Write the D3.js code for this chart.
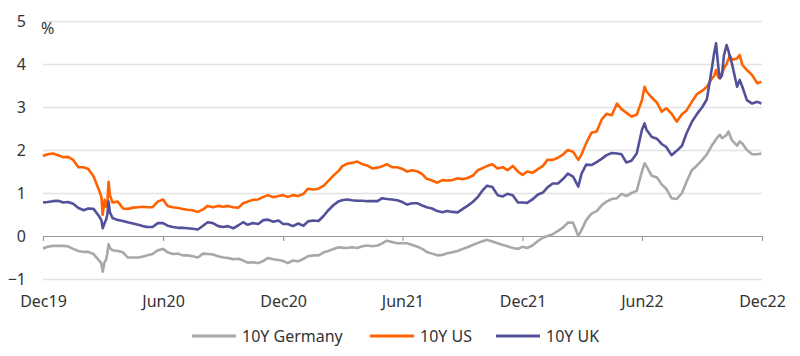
<!DOCTYPE html>
<html><head><meta charset="utf-8">
<script src="https://cdn.jsdelivr.net/npm/d3@7"></script>
<style>
html,body{margin:0;padding:0;background:#fff;}
svg{display:block;font-family:"Noto Sans",sans-serif;}
</style></head>
<body><svg id="c" width="800" height="356"></svg>
<script>
const dates = ["2019-12-01","2019-12-08","2019-12-16","2019-12-24","2020-01-01","2020-01-08","2020-01-16","2020-01-24",
"2020-02-01","2020-02-08","2020-02-16","2020-02-24","2020-02-28","2020-03-01","2020-03-04","2020-03-06","2020-03-08","2020-03-10","2020-03-12","2020-03-16","2020-03-24",
"2020-04-01","2020-04-08","2020-04-16","2020-04-24","2020-05-01","2020-05-08","2020-05-16","2020-05-24",
"2020-06-01","2020-06-08","2020-06-16","2020-06-24","2020-07-01","2020-07-08","2020-07-16","2020-07-24",
"2020-08-01","2020-08-08","2020-08-16","2020-08-24","2020-09-01","2020-09-08","2020-09-16","2020-09-24",
"2020-10-01","2020-10-08","2020-10-16","2020-10-24","2020-11-01","2020-11-08","2020-11-16","2020-11-24",
"2020-12-01","2020-12-08","2020-12-16","2020-12-24","2021-01-01","2021-01-08","2021-01-16","2021-01-24",
"2021-02-01","2021-02-08","2021-02-16","2021-02-24","2021-03-01","2021-03-08","2021-03-16","2021-03-24",
"2021-04-01","2021-04-08","2021-04-16","2021-04-24","2021-05-01","2021-05-08","2021-05-16","2021-05-24",
"2021-06-01","2021-06-08","2021-06-16","2021-06-24","2021-07-01","2021-07-08","2021-07-16","2021-07-24",
"2021-08-01","2021-08-08","2021-08-16","2021-08-24","2021-09-01","2021-09-08","2021-09-16","2021-09-24",
"2021-10-01","2021-10-08","2021-10-16","2021-10-24","2021-11-01","2021-11-08","2021-11-16","2021-11-24",
"2021-12-01","2021-12-08","2021-12-16","2021-12-24","2022-01-01","2022-01-08","2022-01-16","2022-01-24",
"2022-02-01","2022-02-08","2022-02-16","2022-02-24","2022-03-01","2022-03-08","2022-03-16","2022-03-24",
"2022-04-01","2022-04-08","2022-04-16","2022-04-24","2022-05-01","2022-05-08","2022-05-16","2022-05-24",
"2022-06-01","2022-06-05","2022-06-08","2022-06-16","2022-06-24","2022-07-01","2022-07-08","2022-07-16","2022-07-24",
"2022-08-01","2022-08-08","2022-08-16","2022-08-24","2022-09-01","2022-09-08","2022-09-16","2022-09-19","2022-09-22","2022-09-24","2022-09-26","2022-09-28",
"2022-10-01","2022-10-04","2022-10-08","2022-10-11","2022-10-13","2022-10-16","2022-10-24","2022-10-28",
"2022-11-01","2022-11-08","2022-11-16","2022-11-24","2022-11-30"];

const germany = [-0.29,-0.25,-0.23,-0.23,-0.23,-0.24,-0.30,-0.35,
-0.37,-0.37,-0.42,-0.56,-0.64,-0.83,-0.60,-0.56,-0.40,-0.19,-0.28,-0.33,-0.35,
-0.38,-0.50,-0.50,-0.50,-0.48,-0.45,-0.42,-0.33,
-0.30,-0.38,-0.42,-0.41,-0.45,-0.45,-0.47,-0.50,
-0.41,-0.42,-0.43,-0.47,-0.50,-0.51,-0.54,-0.53,
-0.57,-0.62,-0.61,-0.63,-0.58,-0.51,-0.54,-0.56,
-0.58,-0.63,-0.57,-0.59,-0.53,-0.47,-0.45,-0.45,
-0.38,-0.35,-0.30,-0.26,-0.27,-0.28,-0.26,-0.28,
-0.24,-0.22,-0.24,-0.22,-0.17,-0.11,-0.14,-0.17,
-0.17,-0.17,-0.21,-0.25,-0.30,-0.37,-0.41,-0.45,
-0.44,-0.40,-0.38,-0.35,-0.30,-0.26,-0.21,-0.16,
-0.12,-0.09,-0.13,-0.17,-0.21,-0.24,-0.28,-0.30,
-0.25,-0.28,-0.22,-0.12,-0.04,0.00,0.04,0.12,
0.20,0.31,0.31,0.00,0.14,0.37,0.52,0.58,
0.72,0.80,0.86,0.88,0.98,0.93,1.00,1.05,
1.50,1.69,1.62,1.40,1.36,1.20,1.10,0.88,0.86,
1.00,1.26,1.53,1.64,1.77,1.90,2.12,2.18,2.25,2.29,2.33,2.35,
2.28,2.30,2.35,2.43,2.35,2.23,2.10,2.20,
2.15,2.00,1.90,1.90,1.92];

const us = [1.86,1.90,1.92,1.88,1.83,1.84,1.77,1.60,
1.60,1.56,1.39,1.08,0.91,0.49,0.84,0.68,0.75,1.26,0.95,0.78,0.80,
0.64,0.63,0.66,0.67,0.68,0.67,0.67,0.80,
0.85,0.70,0.67,0.65,0.63,0.61,0.60,0.56,
0.62,0.70,0.67,0.70,0.68,0.70,0.67,0.66,
0.76,0.80,0.84,0.85,0.91,0.95,0.90,0.93,
0.95,0.91,0.95,0.93,0.98,1.10,1.08,1.10,
1.17,1.28,1.41,1.52,1.62,1.68,1.70,1.73,
1.67,1.64,1.57,1.59,1.62,1.67,1.60,1.60,
1.56,1.50,1.53,1.50,1.44,1.33,1.29,1.24,
1.30,1.29,1.30,1.34,1.32,1.35,1.40,1.53,
1.58,1.63,1.67,1.57,1.60,1.53,1.63,1.50,
1.42,1.50,1.47,1.55,1.63,1.77,1.77,1.82,
1.90,2.00,1.96,1.77,1.90,2.16,2.40,2.43,
2.72,2.84,2.81,3.08,2.95,2.87,2.78,2.82,
3.16,3.47,3.36,3.22,3.10,2.89,2.97,2.85,2.66,
2.83,2.92,3.12,3.30,3.38,3.47,3.67,3.72,3.86,3.75,3.68,3.67,
3.78,3.90,4.00,4.12,4.20,4.10,4.13,4.21,
3.98,3.86,3.74,3.55,3.59];

const uk = [0.78,0.79,0.81,0.82,0.78,0.79,0.75,0.65,
0.60,0.64,0.63,0.47,0.37,0.18,0.30,0.37,0.50,0.80,0.55,0.42,0.37,
0.35,0.32,0.29,0.26,0.23,0.21,0.21,0.30,
0.30,0.24,0.21,0.19,0.19,0.18,0.17,0.15,
0.24,0.32,0.30,0.23,0.21,0.23,0.18,0.25,
0.32,0.26,0.30,0.28,0.37,0.38,0.33,0.36,
0.28,0.28,0.23,0.29,0.24,0.34,0.36,0.35,
0.47,0.60,0.72,0.81,0.83,0.85,0.83,0.82,
0.82,0.81,0.81,0.81,0.88,0.86,0.85,0.83,
0.79,0.73,0.76,0.76,0.71,0.67,0.64,0.58,
0.55,0.58,0.56,0.55,0.63,0.70,0.79,0.91,
1.06,1.17,1.14,0.95,0.92,0.98,0.95,0.78,
0.78,0.77,0.85,0.96,1.01,1.13,1.22,1.22,
1.33,1.45,1.38,1.15,1.45,1.66,1.65,1.72,
1.80,1.88,1.93,1.92,1.90,1.71,1.75,1.92,
2.47,2.62,2.47,2.30,2.26,2.14,2.07,1.88,1.98,
2.10,2.39,2.65,2.84,3.00,3.18,3.94,4.25,4.48,4.15,3.85,3.67,
3.74,4.20,4.44,4.30,4.17,4.02,3.47,3.63,
3.47,3.16,3.08,3.12,3.08];

const yTicks = [-1,0,1,2,3,4,5];
const xTickDates = ["2019-12-01","2020-06-01","2020-12-01","2021-06-01","2021-12-01","2022-06-01","2022-12-01"];
const xTickLabels = ["Dec19","Jun20","Dec20","Jun21","Dec21","Jun22","Dec22"];
const seriesNames = ["10Y Germany","10Y US","10Y UK"];
const seriesColors = ["#a8a8a8","#ff6200","#525199"];

const parse = d3.timeParse("%Y-%m-%d");
const svg = d3.select("#c");
const x = d3.scaleTime().domain([parse("2019-12-01"), parse("2022-12-01")]).range([43, 762]);
const y = d3.scaleLinear().domain([-1, 5]).range([279, 21]);

// gridlines + y labels
const ya = svg.append("g").attr("transform","translate(43,0)")
  .call(d3.axisLeft(y).tickValues(yTicks).tickSize(-(762-43)).tickPadding(17).tickFormat(d3.format("d")));
ya.select(".domain").remove();
ya.selectAll(".tick line").attr("stroke", d => d === 0 ? "#9a9a9a" : "#e3e3e3").attr("stroke-width", d => d===0 ? 1.2 : 1.5);
ya.selectAll(".tick text").attr("fill","#333").style("font-size","16px").style("font-family","'Noto Sans',sans-serif");

// x ticks on zero line
const xa = svg.append("g").attr("transform",`translate(0,${y(0)})`)
  .call(d3.axisBottom(x).tickValues(xTickDates.map(parse)).tickSize(5).tickFormat(""));
xa.select(".domain").remove();
xa.selectAll(".tick line").attr("stroke","#9a9a9a").attr("stroke-width",1.2);

// x labels
const xl = svg.append("g").attr("transform",`translate(0,${y(-1)})`)
  .call(d3.axisBottom(x).tickValues(xTickDates.map(parse)).tickSize(0).tickPadding(17)
    .tickFormat((d,i) => xTickLabels[i]));
xl.select(".domain").remove();
xl.selectAll(".tick text").attr("fill","#333").style("font-size","16px").style("font-family","'Noto Sans',sans-serif");

svg.append("text").attr("x",41).attr("y",34).attr("fill","#333").style("font-size","16px").text("%");

const allSeries = [germany, us, uk];
const line = d3.line().x((d,i) => x(parse(dates[i]))).y(d => y(d));
allSeries.forEach((s, k) => {
  svg.append("path").datum(s).attr("d", line).attr("fill","none")
    .attr("stroke", seriesColors[k]).attr("stroke-width", 2.6).attr("stroke-linejoin","round");
});

// legend
const legX = [192, 370, 496];
const lg = svg.append("g");
seriesNames.forEach((n, k) => {
  lg.append("line").attr("x1", legX[k]).attr("x2", legX[k] + 44).attr("y1", 336).attr("y2", 336)
    .attr("stroke", seriesColors[k]).attr("stroke-width", 3);
  lg.append("text").attr("x", legX[k] + 50).attr("y", 336).attr("dy","0.35em")
    .attr("fill","#333").style("font-size","16px").text(n);
});
</script></body></html>
